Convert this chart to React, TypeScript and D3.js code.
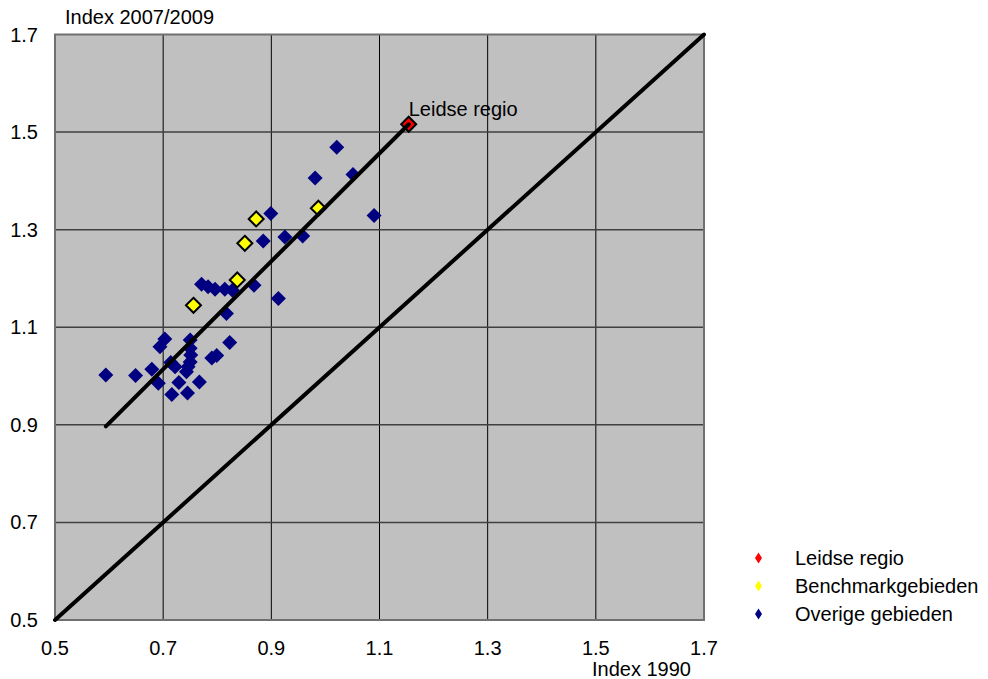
import React from "react";
import * as d3 from "d3";

const xTicks = [0.5, 0.7, 0.9, 1.1, 1.3, 1.5, 1.7];
const yTicks = [0.5, 0.7, 0.9, 1.1, 1.3, 1.5, 1.7];

const overigeX = [0.594, 0.649, 0.679, 0.691, 0.694, 0.703, 0.714, 0.722, 0.729, 0.716, 0.745, 0.767, 0.750, 0.750, 0.751, 0.750, 0.746, 0.743, 0.790, 0.799, 0.823, 0.771, 0.783, 0.796, 0.814, 0.828, 0.868, 0.817, 0.913, 1.021, 0.981, 1.051, 0.899, 1.090, 0.885, 0.925, 0.958];
const overigeY = [1.002, 1.001, 1.014, 0.985, 1.060, 1.076, 1.028, 1.019, 0.987, 0.962, 0.965, 0.988, 1.074, 1.057, 1.043, 1.029, 1.019, 1.009, 1.037, 1.042, 1.069, 1.188, 1.183, 1.178, 1.178, 1.176, 1.186, 1.128, 1.159, 1.469, 1.406, 1.413, 1.333, 1.329, 1.277, 1.285, 1.287];

const benchX = [0.756, 0.837, 0.851, 0.872, 0.987];
const benchY = [1.145, 1.197, 1.272, 1.322, 1.344];

const leidenX = [1.154];
const leidenY = [1.516];

const trendX = [0.594, 1.154];
const trendY = [0.897, 1.516];
const diagX = [0.5, 1.7];
const diagY = [0.5, 1.7];

const legendLabels = ["Leidse regio", "Benchmarkgebieden", "Overige gebieden"];
const legendColors = ["#FF0000", "#FFFF00", "#000080"];

const FONT = "'Liberation Sans', Arial, sans-serif";
const FS = 20;

const diamond = (rx: number, ry: number) => `M0,${-ry}L${rx},0L0,${ry}L${-rx},0Z`;

export default function App() {
  const left = 55, right = 704, top = 34.5, bottom = 620;
  const x = d3.scaleLinear().domain([0.5, 1.7]).range([left, right]);
  const y = d3.scaleLinear().domain([0.5, 1.7]).range([bottom, top]);
  const line = d3.line<[number, number]>().x(d => x(d[0])).y(d => y(d[1]));

  const trendPts: [number, number][] = trendX.map((v, i) => [v, trendY[i]]);
  const diagPts: [number, number][] = diagX.map((v, i) => [v, diagY[i]]);

  return (
    <svg width={988} height={679} style={{ position: "absolute", left: 0, top: 0, background: "#fff" }} fontFamily={FONT}>
      <rect x={left} y={top} width={right - left} height={bottom - top} fill="#C0C0C0" />
      {xTicks.slice(1, -1).map(t => (
        <line key={"vx" + t} x1={x(t)} x2={x(t)} y1={top} y2={bottom} stroke="#000" strokeWidth={1} />
      ))}
      {yTicks.slice(1, -1).map(t => (
        <line key={"hy" + t} x1={left} x2={right} y1={y(t)} y2={y(t)} stroke="#404040" strokeWidth={1.5} />
      ))}
      <rect x={left} y={top} width={right - left} height={bottom - top} fill="none" stroke="#707070" strokeWidth={2} />

      {overigeX.map((v, i) => (
        <path key={"o" + i} d={diamond(7.5, 7.5)} transform={`translate(${x(v)},${y(overigeY[i])})`} fill="#000080" />
      ))}
      {benchX.map((v, i) => (
        <path key={"b" + i} d={diamond(7.5, 7.5)} transform={`translate(${x(v)},${y(benchY[i])})`} fill="#FFFF00" stroke="#000" strokeWidth={2} />
      ))}
      {leidenX.map((v, i) => (
        <path key={"l" + i} d={diamond(7.5, 7.5)} transform={`translate(${x(v)},${y(leidenY[i])})`} fill="#FF0000" stroke="#000" strokeWidth={2} />
      ))}

      <path d={line(diagPts) || ""} stroke="#000" strokeWidth={4} fill="none" strokeLinecap="round" />
      <path d={line(trendPts) || ""} stroke="#000" strokeWidth={4} fill="none" strokeLinecap="round" />

      <text x={x(leidenX[0])} y={y(leidenY[0]) - 8} fontSize={FS} fill="#000">Leidse regio</text>

      {yTicks.map(t => (
        <text key={"yl" + t} x={38} y={y(t)} textAnchor="end" dominantBaseline="central" fontSize={FS} fill="#000">{t.toFixed(1)}</text>
      ))}
      {xTicks.map(t => (
        <text key={"xl" + t} x={x(t)} y={648} textAnchor="middle" dominantBaseline="central" fontSize={FS} fill="#000">{t.toFixed(1)}</text>
      ))}
      <text x={65} y={17} dominantBaseline="central" fontSize={FS} fill="#000">Index 2007/2009</text>
      <text x={691} y={669} textAnchor="end" dominantBaseline="central" fontSize={FS} fill="#000">Index 1990</text>

      {legendLabels.map((lab, i) => (
        <g key={"lg" + i} transform={`translate(0,${558 + i * 28})`}>
          <path d={diamond(3.5, 5.5)} transform="translate(758.5,0)" fill={legendColors[i]} />
          <text x={795} y={0} dominantBaseline="central" fontSize={FS} fill="#000">{lab}</text>
        </g>
      ))}
    </svg>
  );
}
